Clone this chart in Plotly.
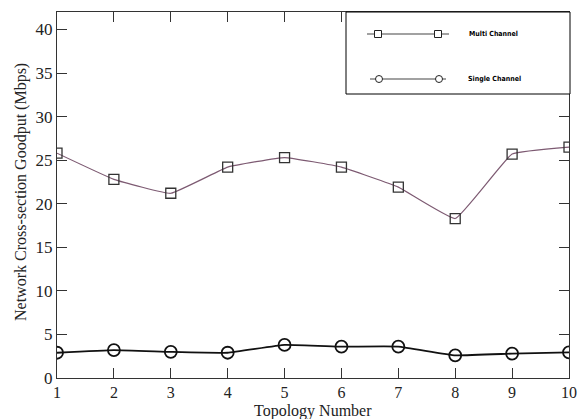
import plotly.graph_objects as go

topology = [1, 2, 3, 4, 5, 6, 7, 8, 9, 10]
multi_channel = [25.8, 22.8, 21.2, 24.2, 25.3, 24.2, 21.9, 18.3, 25.7, 26.5]
single_channel = [2.9, 3.2, 3.0, 2.9, 3.8, 3.6, 3.6, 2.6, 2.8, 2.95]
y_ticks = [0, 5, 10, 15, 20, 25, 30, 35, 40]

serif = "Liberation Serif"

fig = go.Figure()
fig.add_trace(go.Scatter(
    x=topology, y=multi_channel, mode="lines+markers", name="Multi Channel",
    line=dict(color="#7d5a72", width=1.2, shape="spline", smoothing=0.3),
    marker=dict(symbol="square-open", size=10, color="#333333", line=dict(width=1.3)),
    showlegend=False,
))
fig.add_trace(go.Scatter(
    x=topology, y=single_channel, mode="lines+markers", name="Single Channel",
    line=dict(color="#111111", width=1.8, shape="spline", smoothing=0.3),
    marker=dict(symbol="circle-open", size=12, color="#111111", line=dict(width=1.8)),
    showlegend=False,
))

# manual legend box (matching the original two-marker samples)
L, R, T, B = 57, 569, 12, 378
W, H = R - L, B - T
px = lambda v: (v - L) / W
py = lambda v: (B - v) / H
shapes = [dict(type="rect", xref="paper", yref="paper", x0=px(346), x1=px(570), y0=py(94), y1=py(12),
               line=dict(color="black", width=1), fillcolor="white", layer="above")]
annotations = []
entries = [("Multi Channel", 34, 367, 449, (378, 438), "square", 467),
           ("Single Channel", 79, 370, 446, (379, 439), "circle", 466)]
for label, yy, x0, x1, mks, kind, tx in entries:
    shapes.append(dict(type="line", xref="paper", yref="paper", x0=px(x0), x1=px(x1), y0=py(yy), y1=py(yy),
                       line=dict(color="#444444", width=1.2), layer="above"))
    for m in mks:
        shapes.append(dict(type="rect" if kind == "square" else "circle", xref="paper", yref="paper",
                           x0=px(m - 3.5), x1=px(m + 3.5), y0=py(yy + 3.5), y1=py(yy - 3.5),
                           line=dict(color="#222222", width=1), fillcolor="white", layer="above"))
    annotations.append(dict(xref="paper", yref="paper", x=px(tx), y=py(yy), text="<b>" + label + "</b>",
                            showarrow=False, xanchor="left", yanchor="middle",
                            font=dict(family="DejaVu Sans Condensed", size=7, color="black")))

# axis titles placed as annotations for exact positioning
annotations.append(dict(xref="paper", yref="paper", x=px(313), y=py(411), text="Topology Number",
                        showarrow=False, xanchor="center", yanchor="middle",
                        font=dict(family=serif, size=16, color="#222222")))
annotations.append(dict(xref="paper", yref="paper", x=px(21), y=py(192), text="Network Cross-section Goodput (Mbps)",
                        showarrow=False, xanchor="center", yanchor="middle", textangle=-90,
                        font=dict(family=serif, size=16, color="#222222")))

fig.update_layout(
    width=579, height=419,
    margin=dict(l=L, r=579 - R, t=T, b=419 - B),
    paper_bgcolor="white", plot_bgcolor="white",
    shapes=shapes, annotations=annotations,
    font=dict(family=serif, color="#222222"),
)
fig.update_xaxes(
    range=[1, 10], tickvals=topology, ticks="inside", ticklen=10, tickcolor="#333333",
    showline=True, linecolor="#333333", linewidth=1, mirror="ticks", showgrid=False, zeroline=False,
    tickfont=dict(family=serif, size=16), automargin=False,
)
fig.update_yaxes(
    range=[0, 42], tickvals=y_ticks, ticks="inside", ticklen=10, tickcolor="#333333",
    showline=True, linecolor="#333333", linewidth=1, mirror="ticks", showgrid=False, zeroline=False,
    tickfont=dict(family=serif, size=17), automargin=False,
)
fig.write_html("out.html", config={"displayModeBar": False},
               post_script="document.body.style.margin='0';document.body.style.overflow='hidden';")
